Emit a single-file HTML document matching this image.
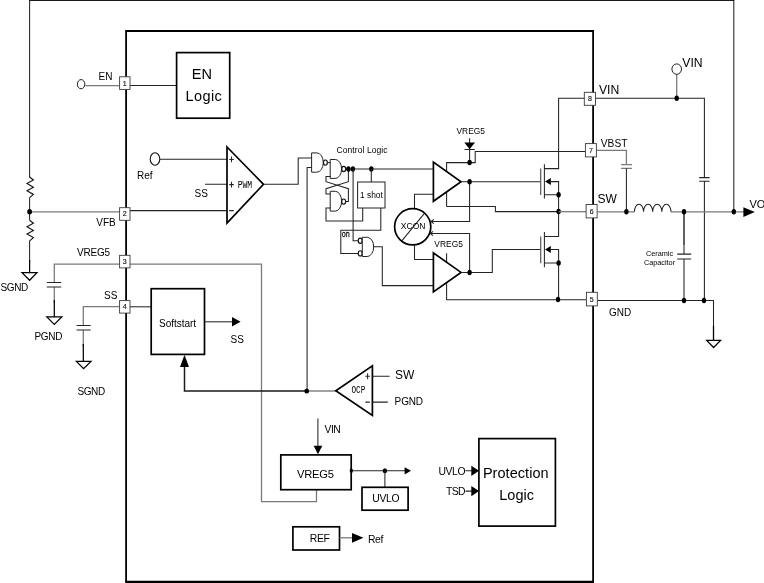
<!DOCTYPE html>
<html><head><meta charset="utf-8"><title>Block Diagram</title>
<style>
html,body{margin:0;padding:0;background:#fff;}
body{width:764px;height:583px;overflow:hidden;}
svg{display:block;will-change:transform;}
text{font-family:"Liberation Sans",Arial,sans-serif;fill:#000;}
.k{stroke:#000;fill:none;stroke-width:1.8;}
.b{stroke:#000;fill:#fff;stroke-width:1.7;}
.t{stroke:#242424;fill:none;stroke-width:1.05;}
.m{stroke:#000;fill:none;stroke-width:1.25;}
.g{stroke:#7a7a7a;fill:none;stroke-width:1.3;}
.p{stroke:#3a3a3a;fill:#fff;stroke-width:0.9;}
.d{fill:#000;stroke:none;}
.z{stroke:#111;fill:none;stroke-width:1.1;stroke-linejoin:miter;}
.gn{stroke:#000;fill:#fff;stroke-width:1.25;}
.w{fill:#fff;stroke:#222;stroke-width:1;}
.bb{fill:#fff;stroke:#111;stroke-width:1.15;}
.pn{font-size:7px;fill:#111;text-anchor:middle;stroke:#111;stroke-width:0.15;}
.n{font-family:"Liberation Mono","Liberation Sans",monospace;}
</style></head><body>
<svg width="764" height="583" viewBox="0 0 764 583">
<rect x="0" y="0" width="764" height="583" fill="#fff"/>

<!-- outer feedback loop -->
<g id="loop">
<path class="t" d="M29.6,177.5 V0.5 M733.8,0.5 V211.8"/>
<path d="M29,0.5 H734.4" stroke="#1a1a1a" stroke-width="1" fill="none"/>
<path class="z" d="M29.6,177 L33.4,180 L27,183.6 L33.4,187.2 L27,190.8 L33.4,194.4 L29.6,197.6 M29.6,220.3 L33.4,223.2 L27,226.8 L33.4,230.4 L27,234 L33.4,237.6 L29.6,240.8"/>
<path class="t" d="M29.6,197.6 V220.3 M29.6,240.8 V262"/>
<path class="m" d="M29.6,260 V272.6"/>
<path class="gn" d="M22,272.6 H37 L29.6,280.3 Z"/>
<path class="g" d="M29.6,211.9 H119.5"/>
<ellipse class="d" cx="29.6" cy="211.8" rx="2.4" ry="2.7"/>
</g>

<!-- main box -->
<path class="k" d="M126.1,582 V31 H593.1 V582"/>
<path d="M125.2,581.85 H594 " stroke="#000" stroke-width="2.3" fill="none"/>

<!-- left pins / externals -->
<g id="leftpins">
<ellipse class="w" cx="81.1" cy="84.2" rx="3.7" ry="4.6" style="stroke:#1a1a1a;stroke-width:1"/>
<path class="g" d="M85.3,85.6 H119.5"/>
<path class="t" d="M130,85.4 H176.5"/>
<path class="g" d="M119.5,264.2 H54.3 V282.4 M54.3,287 V303"/>
<path class="t" d="M46.8,282.4 H61.2 M46.8,287 H61.2"/>
<path class="m" d="M54.3,300 V317"/>
<path class="gn" d="M46.8,316.9 H61.8 L54.3,324.4 Z"/>
<path class="g" d="M119.5,306.7 H83.3 V325.5 M83.3,330 V347"/>
<path class="t" d="M76.6,325.5 H90.7 M76.6,330 H90.7"/>
<path class="m" d="M83.3,344 V361.5"/>
<path class="gn" d="M76.4,361.4 H91 L83.6,368.6 Z"/>
<path class="t" d="M130,306.8 H151"/>
<path class="t" d="M130,210.6 H227"/>
<path class="g" d="M130,264.2 H261.5 V501.6 H316.5 V489.7"/>
</g>

<!-- EN logic -->
<rect class="b" x="176.6" y="52.6" width="53.1" height="65.6"/>
<text x="201.8" y="79" font-size="14.5" text-anchor="middle">EN</text>
<text x="185.6" y="100.7" font-size="14.5" textLength="36.2">Logic</text>

<!-- Ref / PWM -->
<g id="pwm">
<ellipse class="w" cx="155" cy="159" rx="4.8" ry="6.3" style="stroke:#111;stroke-width:1.1"/>
<path class="t" d="M160,159.3 H227 M205,184.3 H227"/>
<path class="b" d="M227,147 V223 L263.5,184.3 Z"/>
<path class="t" d="M229.2,159.4 h4.6 m-2.3,-2.9 v5.8 M229.2,184.6 h4.6 m-2.3,-2.9 v5.8 M229.2,210.6 h4.6"/>
<path class="t" d="M263.5,184.3 H298.2 V158 H311.8"/>
</g>

<!-- control logic -->
<g id="ctl">
<path class="t" d="M311.8,167.5 H307.1 V390.8"/>
<path class="w" d="M311.6,152.9 H316.8 A6.5,9.65 0 0 1 316.8,172.2 H311.6 Z"/>
<ellipse class="bb" cx="325.4" cy="162.6" rx="1.95" ry="2.65"/>
<path class="t" d="M327.3,162.6 H330.7"/>
<path class="w" d="M330.2,159.5 H335.3 A6.3,9.45 0 0 1 335.3,178.4 H330.2 Z"/>
<ellipse class="bb" cx="343.7" cy="169" rx="1.95" ry="2.65"/>
<path class="w" d="M330.2,191.3 H335.3 A6.3,9.9 0 0 1 335.3,211.1 H330.2 Z"/>
<ellipse class="bb" cx="343.7" cy="201.6" rx="1.95" ry="2.65"/>
<path class="t" d="M330.7,176.4 H326 V181.7 L348.4,188.7 V201.4 H345.6"/>
<path class="t" d="M348.4,169 V181.7 L326,188.7 V194 H330.7"/>
<path class="t" d="M330.7,208 H326 V220.9 H362.7 V208"/>
<path class="t" d="M345.6,169 H433.7"/>
<ellipse class="d" cx="348.4" cy="169" rx="2.2" ry="2.75"/>
<ellipse class="d" cx="352.9" cy="169" rx="2.2" ry="2.75"/>
<ellipse class="d" cx="371.3" cy="169" rx="2.2" ry="2.75"/>
<path class="t" d="M371.3,169 V182"/>
<rect class="w" x="357.6" y="182" width="27.4" height="26"/>
<path class="t" d="M353.1,169 V240.7 H358.2"/>
<path class="t" d="M380.8,208 V230.3 H340.8 V253.4 H358.2"/>
<ellipse class="bb" cx="360.2" cy="240.7" rx="1.95" ry="2.65"/>
<ellipse class="bb" cx="360.2" cy="253.4" rx="1.95" ry="2.65"/>
<path class="w" d="M362.3,237.3 H367.2 A6.5,9.6 0 0 1 367.2,256.5 H362.3 Z"/>
<path class="t" d="M373.7,246.7 H382.3 V285.6 H433.7"/>
</g>

<!-- drivers -->
<g id="drv">
<path class="t" d="M469.6,138.2 V162.6"/>
<path class="d" d="M464.3,142.6 H475 L469.6,149.3 Z"/>
<path class="t" d="M464.5,149.5 H474.8"/>
<path class="t" d="M446.6,206.5 V162.6 H475.2 V151.4 H585.3"/>
<path class="t" d="M446.6,206.5 H495.4 V211.6 H558.6"/>
<path class="t" d="M414.5,208 V194.2 H433.7"/>
<path class="t" d="M414.5,245.2 V259.4 H433.7"/>
<path class="t" d="M446.6,253.2 V299.7 H586"/>
<path class="b" d="M433.4,162.1 V201.3 L461,181.7 Z"/>
<path class="b" d="M433.4,252.9 V291.9 L461,272.4 Z"/>
<path class="t" d="M461,181.7 H540.6"/>
<path class="t" d="M469.6,181.7 V221.5 H431 M431.2,221.5 l2.6,-2.2 M431.2,221.5 l2.6,2.2"/>
<path class="t" d="M469.6,272.4 V233.5 H430.2 M430.4,233.5 l2.6,-2.2 M430.4,233.5 l2.6,2.2"/>
<path class="t" d="M461,272.4 H492.3 V249.5 H540.6"/>
<ellipse class="d" cx="469.6" cy="162.6" rx="2.2" ry="2.75"/>
<ellipse class="d" cx="469.6" cy="181.7" rx="2.2" ry="2.75"/>
<ellipse class="d" cx="469.6" cy="272.4" rx="2.2" ry="2.75"/>
<circle cx="412.7" cy="226.8" r="18.1" class="b" style="stroke-width:1.7"/>
<path class="t" d="M401.8,240.8 L424.2,213.6"/>
</g>

<!-- mosfets -->
<g id="fets">
<path class="t" d="M585,98.3 H558.6 V168.6 H544.4"/>
<path class="t" d="M540.7,168.4 V194.9" style="stroke:#555;stroke-width:1.2"/>
<path class="t" d="M544.4,164.2 V198.6"/>
<path class="t" d="M544.4,194.7 H558.6 M550.5,181.6 H558.6 V236.5 H544.4"/>
<path class="d" d="M545,181.6 L550.8,178.1 V185.1 Z"/>
<path class="t" d="M540.7,236.6 V263.2" style="stroke:#555;stroke-width:1.2"/>
<path class="t" d="M544.4,232.1 V267.3"/>
<path class="t" d="M544.4,262.9 H558.6 M550.5,249.5 H558.6 V299.5"/>
<path class="d" d="M545,249.5 L550.8,246 V253 Z"/>
<ellipse class="d" cx="558.6" cy="194.7" rx="2.2" ry="2.75"/>
<ellipse class="d" cx="558.6" cy="211.6" rx="2.2" ry="2.75"/>
<ellipse class="d" cx="558.6" cy="262.9" rx="2.2" ry="2.75"/>
<ellipse class="d" cx="558" cy="299.5" rx="2.2" ry="2.75"/>
</g>

<!-- right external -->
<g id="right">
<path class="t" d="M595.6,98.3 H704.4 V177.6 M699.2,177.6 H709.6 M699.2,181.2 H709.6 M704.4,181.2 V300.4"/>
<path class="g" d="M676.7,74.3 V98.3"/>
<ellipse class="w" cx="676.7" cy="69.1" rx="4.8" ry="5.2"/>
<ellipse class="d" cx="676.7" cy="98.3" rx="2.2" ry="2.75"/>
<path class="g" d="M596.5,150.3 H626.4 V164.7 M621.1,164.7 H632 M621.1,168.3 H632"/>
<path class="t" d="M626.4,168.3 V211.8"/>
<path class="g" d="M597.2,211.8 H634.4 M671,211.8 H744"/>
<path class="g" d="M558.6,211.7 H586"/>
<path class="t" d="M634.4,211.8 a4.57,7.6 0 0 1 9.14,0 a4.57,7.6 0 0 1 9.14,0 a4.57,7.6 0 0 1 9.14,0 a4.57,7.6 0 0 1 9.14,0"/>
<ellipse class="d" cx="626.4" cy="211.8" rx="2.2" ry="2.75"/>
<ellipse class="d" cx="684" cy="211.8" rx="2.2" ry="2.75"/>
<ellipse class="d" cx="733.8" cy="211.8" rx="2.2" ry="2.75"/>
<path class="d" d="M743.4,207.2 V216.9 L754.8,212 Z"/>
<path class="m" d="M684,211.8 V244.5"/>
<path class="t" d="M684,244 V254.1 M677.2,254.1 H691.2 M677.2,258.9 H691.2 M684,258.9 V300.4"/>
<path class="t" d="M597.4,300.4 H713.5 V340.3"/>
<path class="m" d="M713.5,326 V340.3"/>
<path class="gn" d="M706.7,340.4 H720.6 L713.6,347.5 Z"/>
<ellipse class="d" cx="684" cy="300.4" rx="2.2" ry="2.75"/>
<ellipse class="d" cx="704" cy="300.4" rx="2.2" ry="2.75"/>
</g>

<!-- pin boxes -->
<g id="pins">
<rect class="p" x="119.6" y="76.8" width="10.4" height="12.6"/><text class="pn" x="124.8" y="85.8">1</text>
<rect class="p" x="119.6" y="207.7" width="10.4" height="12.6"/><text class="pn" x="124.8" y="216.3">2</text>
<rect class="p" x="119.6" y="255.3" width="10.4" height="12.6"/><text class="pn" x="124.8" y="264">3</text>
<rect class="p" x="119.6" y="300.6" width="10.4" height="12.5"/><text class="pn" x="124.8" y="309.2">4</text>
<rect class="p" x="586.4" y="292.3" width="10.9" height="13.6"/><text class="pn" x="591.8" y="301.5">5</text>
<rect class="p" x="586.1" y="204.5" width="11" height="13.4"/><text class="pn" x="591.6" y="213.6">6</text>
<rect class="p" x="585.4" y="143.6" width="11" height="13.3"/><text class="pn" x="590.9" y="152.7">7</text>
<rect class="p" x="584.3" y="92.3" width="11.2" height="13"/><text class="pn" x="589.9" y="101.2">8</text>
</g>

<!-- softstart -->
<g id="ss">
<rect class="b" x="151.2" y="288.7" width="53.3" height="65.7"/>
<path class="t" d="M204.5,321.8 H232"/>
<path class="d" d="M232,317 V326.6 L240.6,321.8 Z"/>
<path class="m" d="M184.5,366 V391 H306.6" style="stroke:#1a1a1a;stroke-width:1.5"/>
<path class="d" d="M184.5,354.8 L180,367 H189 Z"/>
<path class="g" d="M306.6,391 H336" style="stroke-width:1.4"/>
<ellipse class="d" cx="306.7" cy="391" rx="2.4" ry="2.5"/>
</g>

<!-- OCP -->
<g id="ocp">
<path class="b" d="M372.4,365.9 V415.4 L335.8,390.8 Z"/>
<path class="t" d="M372.8,376.3 H389.7 M372.8,402.1 H387.8"/>
<path class="t" d="M365.4,376.3 h4.4 m-2.2,-3 v6 M365.4,402.1 h4.4"/>
</g>

<!-- VREG5 / UVLO / REF -->
<g id="vreg">
<path class="t" d="M317.9,418.6 V446"/>
<path class="d" d="M313.6,445.7 H322.3 L318,454.3 Z"/>
<rect class="b" x="280.8" y="454.9" width="70.4" height="34.8"/>
<path class="t" d="M351.3,470.8 H405"/>
<path class="d" d="M404.6,467.3 V474.4 L411,470.8 Z"/>
<ellipse class="d" cx="351.3" cy="470.8" rx="1.6" ry="2.2"/>
<ellipse class="d" cx="384.9" cy="470.8" rx="2.2" ry="2.5"/>
<path class="t" d="M384.9,470.8 V487.3"/>
<rect class="b" x="362" y="487.3" width="46.1" height="22.9"/>
<rect class="b" x="292.9" y="526.8" width="46.6" height="23.2"/>
<path class="g" d="M339.5,537.8 H352.5"/>
<path class="d" d="M352,533 V542.7 L363.4,537.8 Z"/>
</g>

<!-- Protection logic -->
<g id="prot">
<rect class="b" x="478.9" y="438.6" width="76.5" height="87.5"/>
<path class="t" d="M465.5,470.8 H472 M465.5,491.1 H472"/>
<path class="d" d="M471.3,465.7 V475.9 L479,470.8 Z"/>
<path class="d" d="M471.3,486 V496.2 L479,491.1 Z"/>
</g>

<!-- labels -->
<g id="labels">
<text x="98.5" y="80.2" font-size="10">EN</text>
<text x="96.3" y="225.5" font-size="10">VFB</text>
<text x="77" y="256" font-size="10" textLength="33">VREG5</text>
<text x="104" y="298.5" font-size="10">SS</text>
<text x="0.5" y="291.1" font-size="10" textLength="27.8">SGND</text>
<text x="34.5" y="339.5" font-size="10" textLength="28">PGND</text>
<text x="77.4" y="395.4" font-size="10" textLength="27.8">SGND</text>
<text x="137" y="178.8" font-size="10">Ref</text>
<text x="194.5" y="196.5" font-size="10">SS</text>
<text class="n" transform="translate(237.7,188.1) scale(0.76,1)" font-size="10.6">PWM</text>
<text x="159" y="327" font-size="10" textLength="37">Softstart</text>
<text x="230.5" y="342.5" font-size="10">SS</text>
<text x="336.5" y="152.7" font-size="8.5" textLength="51">Control Logic</text>
<text x="360" y="197.8" font-size="8.4" textLength="22.8">1 shot</text>
<text class="n" transform="translate(341.7,237) scale(0.78,1)" font-size="8.8" stroke="#000" stroke-width="0.25">on</text>
<text x="400.8" y="229.1" font-size="8.5" textLength="24.7">XCON</text>
<text x="456.4" y="133.9" font-size="8.4" textLength="28.6">VREG5</text>
<text x="434.3" y="246.8" font-size="8.4" textLength="28.6">VREG5</text>
<text x="598.9" y="94" font-size="12.2">VIN</text>
<text x="682.3" y="66.8" font-size="12.2">VIN</text>
<text x="600.8" y="146.9" font-size="10.2">VBST</text>
<text x="597.4" y="202.9" font-size="12">SW</text>
<text x="749.5" y="207.7" font-size="11">VO</text>
<text x="609" y="315.7" font-size="10">GND</text>
<text x="659.5" y="256" font-size="7.3" text-anchor="middle">Ceramic</text>
<text x="659.5" y="265" font-size="7.3" text-anchor="middle">Capacitor</text>
<text class="n" transform="translate(351.4,392.8) scale(0.70,1)" font-size="11">OCP</text>
<text x="395" y="378.7" font-size="12">SW</text>
<text x="394.6" y="404.8" font-size="10" textLength="28.5">PGND</text>
<text x="324.6" y="432.8" font-size="10.3" textLength="16.2">VIN</text>
<text x="296.9" y="478.1" font-size="11.2" textLength="37.2">VREG5</text>
<text x="372.3" y="502" font-size="10.4" textLength="27.2">UVLO</text>
<text x="309.8" y="542" font-size="10.4" textLength="20">REF</text>
<text x="367.9" y="542.8" font-size="10.4" textLength="15.6">Ref</text>
<text x="438.4" y="474.7" font-size="10.4" textLength="27.2">UVLO</text>
<text x="445.9" y="495.1" font-size="10.4" textLength="19.6">TSD</text>
<text x="482.9" y="478" font-size="14.5" textLength="65.7">Protection</text>
<text x="499.3" y="499.8" font-size="14.5">Logic</text>
</g>
</svg>
</body></html>
